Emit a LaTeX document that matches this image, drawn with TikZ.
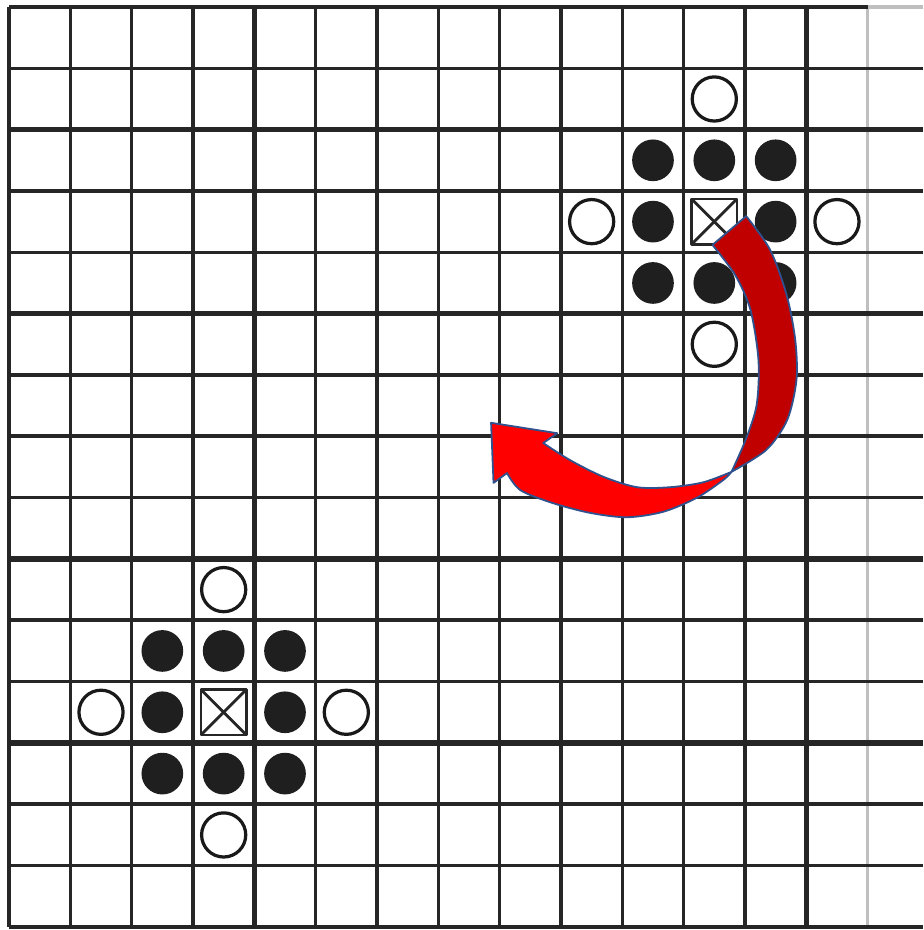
\documentclass[tikz,border=0pt]{standalone}
\usepackage{tikz}
\definecolor{arrowdark}{HTML}{C00000}
\definecolor{arrowlight}{HTML}{FF0000}
\definecolor{arrowedge}{HTML}{2F528F}

\begin{document}
\begin{tikzpicture}[
				line join=round,
				x=0.6cm, y=0.6cm,
				gridline/.style={line width=1pt, draw=black!85},
				heavy/.style={line width=1.5pt},
				stone/.style={fill=black!88},
				ring/.style={draw=black!90, line width=0.9pt, fill=white},
				xbox/.style={draw=black!85, line width=0.8pt},
				band/.style={draw=arrowedge, line width=0.5pt}
				]
				\useasboundingbox (-0.147,-0.05) rectangle (14.91,15.114);
				
				% Grid
				\foreach \i in {0,...,13}
				\draw[gridline] (\i,0) -- (\i,15);
				\foreach \i in {4,13}
				\draw[gridline, heavy] (\i,0) -- (\i,15);
				\draw[gridline, draw=black!25] (14,0) -- (14,15);
				
				\foreach \j in {0,...,14}
				\draw[gridline] (0,\j) -- (14.91,\j);
				\foreach \j in {3,6,10,13}
				\draw[gridline, heavy] (0,\j) -- (14.91,\j);
				\draw[gridline] (0,15) -- (14,15);
				\draw[gridline, draw=black!25] (14,15) -- (14.91,15);
				
				% Stones round the marked cell
				\foreach \cx/\cy in {11.5/11.5, 3.5/3.5}{
					\begin{scope}[shift={(\cx,\cy)}]
						\foreach \x/\y in {-1/1,0/1,1/1,-1/0,1/0,-1/-1,0/-1,1/-1}
						\fill[stone] (\x,\y) circle (0.34);
						\foreach \x/\y in {0/2,-2/0,2/0,0/-2}
						\draw[ring] (\x,\y) circle (0.36);
						\draw[xbox] (-0.37,-0.37) rectangle (0.37,0.37);
						\draw[xbox] (-0.37,-0.37) -- (0.37,0.37);
						\draw[xbox] (-0.37,0.37) -- (0.37,-0.37);
					\end{scope}
				}
				
				% Curved arrow
				\coordinate (tailA) at (11.47,11.12);
				\coordinate (tailB) at (12.02,11.59);
				\coordinate (twist) at (11.78,7.42);
				\coordinate (tip) at (7.86,8.22);
				\coordinate (barbU) at (8.94,8.05);
				\coordinate (notch) at (8.71,7.89);
				\coordinate (foot) at (8.12,7.40);
				\coordinate (barbL) at (7.90,7.24);
				
				\draw[band, fill=arrowdark] (tailA) -- (tailB)
				-- plot[smooth] coordinates {(tailB) (12.41,11.04) (12.68,10.30) (12.82,9.57) (12.84,8.92) (12.69,8.27) (12.35,7.78) (twist)}
				-- plot[smooth] coordinates {(twist) (12.01,7.94) (12.19,8.51) (12.22,9.24) (12.09,10.06) (11.84,10.63) (tailA)}
				-- cycle;
				
				\draw[band, fill=arrowlight] (tip) -- (barbU) -- (notch)
				-- plot[smooth] coordinates {(notch) (9.15,7.61) (9.69,7.34) (10.24,7.17) (10.78,7.17) (11.32,7.25) (twist)}
				-- plot[smooth] coordinates {(twist) (11.65,7.29) (11.22,7.00) (10.67,6.77) (10.08,6.68) (9.48,6.75) (8.87,6.91) (8.34,7.12) (foot)}
				-- (barbL) -- cycle;
			\end{tikzpicture}
\end{document}
